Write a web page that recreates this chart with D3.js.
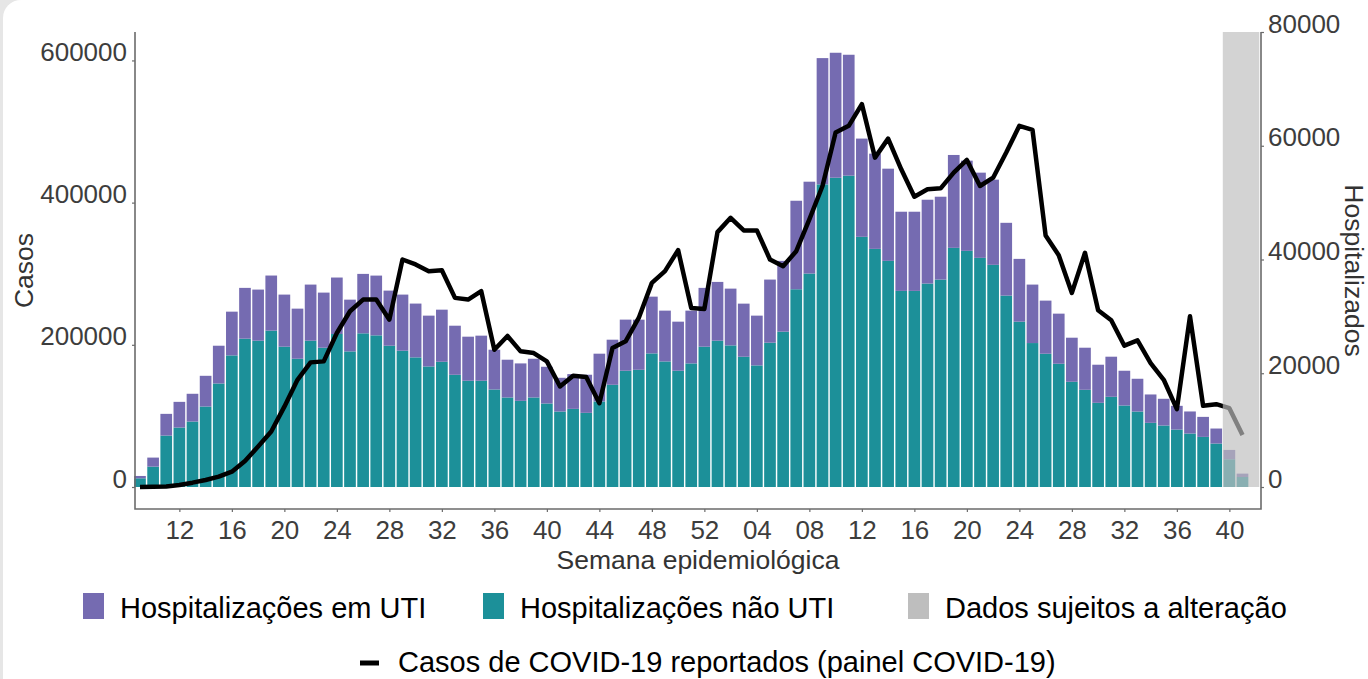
<!DOCTYPE html>
<html lang="pt">

<head>
    <meta charset="UTF-8">
    <title>Hospitalizações e casos de COVID-19</title>
    <script src="https://d3js.org/d3.v7.min.js"></script>
    <style>
        body {
            margin: 0;
            background: #ffffff;
            overflow: hidden;
        }

        text {
            font-family: "Liberation Sans", Arial, sans-serif;
        }
    </style>
</head>

<body>
    <div id="my_dataviz"></div>
    <script>
        // semanas epidemiologicas (2020-09 ... 2021-41)
        var semanas = [
            "2020-09", "2020-10", "2020-11", "2020-12", "2020-13", "2020-14", "2020-15", "2020-16", "2020-17",
            "2020-18", "2020-19", "2020-20", "2020-21", "2020-22", "2020-23", "2020-24", "2020-25", "2020-26",
            "2020-27", "2020-28", "2020-29", "2020-30", "2020-31", "2020-32", "2020-33", "2020-34", "2020-35",
            "2020-36", "2020-37", "2020-38", "2020-39", "2020-40", "2020-41", "2020-42", "2020-43", "2020-44",
            "2020-45", "2020-46", "2020-47", "2020-48", "2020-49", "2020-50", "2020-51", "2020-52",
            "2021-01", "2021-02", "2021-03", "2021-04", "2021-05", "2021-06", "2021-07", "2021-08", "2021-09",
            "2021-10", "2021-11", "2021-12", "2021-13", "2021-14", "2021-15", "2021-16", "2021-17", "2021-18",
            "2021-19", "2021-20", "2021-21", "2021-22", "2021-23", "2021-24", "2021-25", "2021-26", "2021-27",
            "2021-28", "2021-29", "2021-30", "2021-31", "2021-32", "2021-33", "2021-34", "2021-35", "2021-36",
            "2021-37", "2021-38", "2021-39", "2021-40", "2021-41"
        ];

        // hospitalizacoes nao UTI (eixo direito)
        var naoUti = [
            1530, 3580, 9040, 10450, 11510, 14150, 18200, 23140, 26080, 25720,
            27490, 24670, 22550, 25720, 24490, 26900, 23840, 27020, 26660, 24840,
            23960, 22790, 21200, 22020, 19730, 18680, 18680, 17150, 15740, 15150,
            15740, 14680, 13270, 13740, 13040, 15040, 17970, 20440, 20610, 23490,
            22080, 20440, 21730, 24670, 25720, 24900, 22900, 21380, 25370, 27310,
            34770, 37530, 53210, 54380, 54740, 43990, 41870, 39760, 34480, 34480,
            35770, 36470, 42050, 41520, 40290, 39060, 33650, 29070, 25310, 23430,
            21670, 18500, 17090, 14800, 15860, 14330, 13270, 11280, 10810, 10100,
            9400, 8810, 7640, 4880, 1760
        ];

        // hospitalizacoes em UTI (eixo direito)
        var uti = [
            410, 1590, 3820, 4520, 4880, 5400, 6640, 7690, 8930, 8990,
            9690, 9160, 8810, 9870, 9690, 9930, 9100, 10450, 10510, 9690,
            9870, 9460, 8930, 9160, 8630, 7750, 7930, 6990, 6640, 6580,
            6810, 6460, 5930, 6110, 6700, 8400, 7930, 8990, 8810, 9980,
            8930, 8630, 9280, 10340, 10340, 9980, 9340, 8750, 11100, 12450,
            15560, 16150, 22200, 21970, 21260, 17270, 16740, 16210, 13920, 13920,
            14740, 14570, 16330, 15860, 14980, 14980, 12800, 11040, 10280, 9340,
            8810, 7750, 7400, 6700, 7050, 6110, 5760, 4990, 4700, 4170,
            3880, 3520, 2640, 1640, 590
        ];

        // casos reportados (painel COVID-19, eixo esquerdo)
        var casos = [
            0, 300, 800, 2800, 6100, 9900, 14600, 21600, 36700, 56900,
            78000, 113000, 150800, 175300, 176700, 216600, 247200, 263600, 263600, 235400,
            320000, 313000, 303600, 305000, 266000, 263600, 275400, 193100, 212400, 190800,
            188400, 176700, 141400, 156500, 154600, 117900, 195500, 204900, 237800, 287100,
            303600, 333200, 251900, 250500, 358500, 378700, 360900, 360900, 320000, 310600,
            331700, 376400, 423400, 498600, 508000, 538500, 463300, 490000, 446900, 408300,
            418700, 420100, 442200, 460000, 423400, 435100, 470400, 508000, 502300, 353800,
            326100, 273000, 329400, 248600, 234500, 198800, 206300, 174300, 150800, 109500,
            240100, 114200, 116500, 110900, 73300
        ];

        // rotulos do eixo x
        var tickSemanas = ["2020-12", "2020-16", "2020-20", "2020-24", "2020-28", "2020-32", "2020-36",
            "2020-40", "2020-44", "2020-48", "2020-52", "2021-04", "2021-08", "2021-12", "2021-16",
            "2021-20", "2021-24", "2021-28", "2021-32", "2021-36", "2021-40"];
        var casosTicks = [0, 200000, 400000, 600000];
        var hospTicks = [0, 20000, 40000, 60000, 80000];

        // semanas com dados sujeitos a alteracao
        var semanasAlteracao = ["2021-40", "2021-41"];

        var corUti = "#756bb1",
            corNaoUti = "#1c9099",
            corAlteracao = "#bebebe",
            corEixo = "#6b6b6b",
            corTexto = "#3d3d3d";

        // dimensions of the panel
        var W = 1368, H = 679;
        var pLeft = 135, pRight = 1261, pTop = 32, pBottom = 509, zeroY = 487;

        var svg = d3.select("#my_dataviz")
            .append("svg")
            .attr("width", W)
            .attr("height", H);

        // page card
        svg.append("rect").attr("width", W).attr("height", H).attr("fill", "#e6e6e6");
        svg.append("rect").attr("x", 3).attr("y", 0).attr("rx", 18)
            .attr("width", W + 40).attr("height", H + 40).attr("fill", "#ffffff");

        // scales
        var idx = semanas.map(function (d, i) { return i; });
        var x = d3.scaleLinear()
            .domain([-0.38, semanas.length + 0.41])
            .range([pLeft, pRight]);
        var unit = x(1) - x(0);
        var barW = unit * 0.89;

        var yHosp = d3.scaleLinear().domain([0, 80000]).range([zeroY, pTop]);
        var yCasos = d3.scaleLinear().domain([0, 640000]).range([zeroY, pTop]);

        // stacked bars
        var stackData = idx.map(function (i) { return { i: i, naoUti: naoUti[i], uti: uti[i] }; });
        var series = d3.stack().keys(["naoUti", "uti"])(stackData);
        var cores = { naoUti: corNaoUti, uti: corUti };

        svg.append("g")
            .selectAll("g")
            .data(series)
            .enter()
            .append("g")
            .attr("fill", function (d) { return cores[d.key]; })
            .selectAll("rect")
            .data(function (d) { return d; })
            .enter()
            .append("rect")
            .attr("x", function (d) { return x(d.data.i) - barW / 2; })
            .attr("width", barW)
            .attr("y", function (d) { return yHosp(d[1]); })
            .attr("height", function (d) { return yHosp(d[0]) - yHosp(d[1]); });

        // line of cases
        var line = d3.line()
            .x(function (d, i) { return x(i); })
            .y(function (d) { return yCasos(d); });

        svg.append("path")
            .datum(casos)
            .attr("fill", "none")
            .attr("stroke", "#000000")
            .attr("stroke-width", 4.5)
            .attr("stroke-linejoin", "round")
            .attr("d", line);

        // overlay: dados sujeitos a alteracao
        var iIni = semanas.indexOf(semanasAlteracao[0]);
        svg.append("rect")
            .attr("x", x(iIni - 0.5))
            .attr("width", x(semanas.length + 0.28) - x(iIni - 0.5))
            .attr("y", yHosp(80000))
            .attr("height", yHosp(0) - yHosp(80000))
            .attr("fill", corAlteracao)
            .attr("fill-opacity", 0.675);

        // axes
        var axisLeft = svg.append("g")
            .attr("transform", "translate(" + pLeft + ",0)")
            .call(d3.axisLeft(yCasos).tickValues(casosTicks).tickSize(3).tickPadding(5).tickFormat(d3.format("d")));
        var axisRight = svg.append("g")
            .attr("transform", "translate(" + pRight + ",0)")
            .call(d3.axisRight(yHosp).tickValues(hospTicks).tickSize(3).tickPadding(4).tickFormat(d3.format("d")));
        var axisBottom = svg.append("g")
            .attr("transform", "translate(0," + pBottom + ")")
            .call(d3.axisBottom(x)
                .tickValues(tickSemanas.map(function (s) { return semanas.indexOf(s); }))
                .tickSize(3).tickPadding(8.5)
                .tickFormat(function (d) { return semanas[d].slice(5); }));

        [axisLeft, axisRight, axisBottom].forEach(function (a) {
            a.select(".domain").remove();
            a.selectAll("line").attr("stroke", corEixo).attr("stroke-width", 1.2);
            a.selectAll("text")
                .attr("fill", corTexto)
                .style("font-size", "26px")
                .style("font-family", "'Liberation Sans', Arial, sans-serif");
        });
        // labels sit on top of their tick
        axisLeft.selectAll("text").attr("dy", "0");
        axisRight.selectAll("text").attr("dy", "0");

        // axis lines
        svg.append("path")
            .attr("d", "M" + pLeft + "," + pTop + "V" + pBottom + "H" + pRight + "V" + pTop)
            .attr("fill", "none")
            .attr("stroke", corEixo)
            .attr("stroke-width", 1.6);

        // axis titles
        var midY = (pTop + pBottom) / 2;
        svg.append("text")
            .attr("transform", "translate(33," + midY + ") rotate(-90)")
            .attr("text-anchor", "middle")
            .attr("fill", "#333")
            .style("font-size", "26.5px")
            .text("Casos");
        svg.append("text")
            .attr("transform", "translate(1345," + midY + ") rotate(90)")
            .attr("text-anchor", "middle")
            .attr("fill", "#333")
            .style("font-size", "26.5px")
            .text("Hospitalizados");
        svg.append("text")
            .attr("x", (pLeft + pRight) / 2)
            .attr("y", 569)
            .attr("text-anchor", "middle")
            .attr("fill", "#333")
            .style("font-size", "26.5px")
            .text("Semana epidemiológica");

        // legend
        var legenda = [
            { label: "Hospitalizações em UTI", cor: corUti, x: 83 },
            { label: "Hospitalizações não UTI", cor: corNaoUti, x: 483 },
            { label: "Dados sujeitos a alteração", cor: corAlteracao, x: 908 }
        ];
        var leg = svg.append("g").selectAll("g")
            .data(legenda)
            .enter()
            .append("g")
            .attr("transform", function (d) { return "translate(" + d.x + ",0)"; });
        leg.append("rect")
            .attr("y", 593)
            .attr("width", 21)
            .attr("height", 26)
            .attr("fill", function (d) { return d.cor; });
        leg.append("text")
            .attr("x", 37)
            .attr("y", 618)
            .attr("fill", "#000")
            .style("font-size", "29px")
            .text(function (d) { return d.label; });

        svg.append("line")
            .attr("x1", 360).attr("x2", 379)
            .attr("y1", 663).attr("y2", 663)
            .attr("stroke", "#000")
            .attr("stroke-width", 5);
        svg.append("text")
            .attr("x", 398)
            .attr("y", 672)
            .attr("fill", "#000")
            .style("font-size", "29px")
            .text("Casos de COVID-19 reportados (painel COVID-19)");
    </script>
</body>

</html>
